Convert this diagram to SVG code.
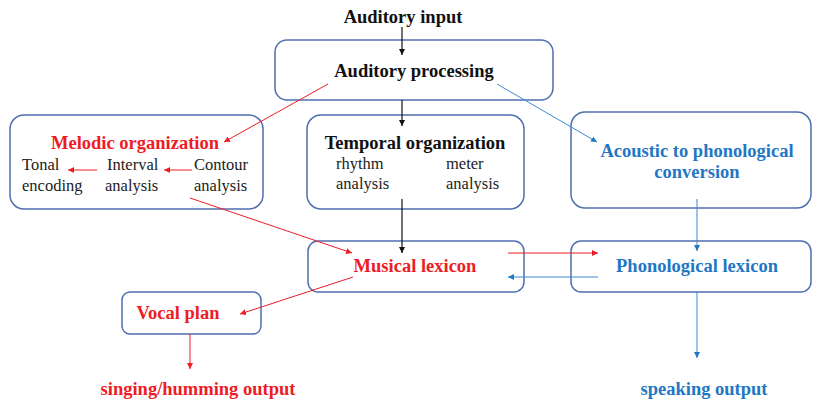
<svg xmlns="http://www.w3.org/2000/svg" width="813" height="403" viewBox="0 0 813 403">
<style>
.box{fill:#fff;stroke:#4f6fad;stroke-width:1.5}
.t{font-family:"Liberation Serif",serif;font-weight:bold;font-size:18.5px;text-anchor:middle}
.s{font-family:"Liberation Serif",serif;font-size:16.5px;fill:#222}
.k{fill:#111}.r{fill:#ee1c24}.b{fill:#1f77c4}
.lk{stroke:#111;stroke-width:1.2;fill:none}
.lr{stroke:#ee1c24;stroke-width:1;fill:none}
.lb{stroke:#3a8ad8;stroke-width:1;fill:none}
</style>
<defs>
<marker id="ak" markerWidth="8" markerHeight="8" refX="6" refY="3" orient="auto" markerUnits="userSpaceOnUse"><path d="M0,0 L6,3 L0,6 z" fill="#111"/></marker>
<marker id="ar" markerWidth="8" markerHeight="8" refX="6" refY="3" orient="auto" markerUnits="userSpaceOnUse"><path d="M0,0 L6,3 L0,6 z" fill="#ee1c24"/></marker>
<marker id="ab" markerWidth="8" markerHeight="8" refX="6" refY="3" orient="auto" markerUnits="userSpaceOnUse"><path d="M0,0 L6,3 L0,6 z" fill="#1f77c4"/></marker>
</defs>
<rect width="813" height="403" fill="#fff"/>
<g id="input"><text class="t k" x="403" y="23">Auditory input</text></g>
<g id="processing"><rect class="box" x="275" y="40" width="278" height="60" rx="12"/><text class="t k" x="414" y="77">Auditory processing</text></g>
<g id="melodic"><rect class="box" x="10" y="115" width="253" height="94" rx="14"/>
<text class="t r" x="135" y="149">Melodic organization</text>
<text class="s" x="22" y="170">Tonal</text><text class="s" x="22" y="191">encoding</text>
<text class="s" x="107" y="170">Interval</text><text class="s" x="105" y="191">analysis</text>
<text class="s" x="194" y="170">Contour</text><text class="s" x="194" y="191">analysis</text></g>
<g id="temporal"><rect class="box" x="307" y="115" width="217" height="94" rx="14"/>
<text class="t k" x="415" y="149">Temporal organization</text>
<text class="s" x="336" y="169">rhythm</text><text class="s" x="336" y="189">analysis</text>
<text class="s" x="446" y="169">meter</text><text class="s" x="446" y="189">analysis</text></g>
<g id="acoustic"><rect class="box" x="571" y="112" width="240" height="96" rx="14"/>
<text class="t b" x="697" y="157">Acoustic to phonological</text>
<text class="t b" x="697" y="178">conversion</text></g>
<g id="musical"><rect class="box" x="308" y="241" width="216" height="51" rx="10"/><text class="t r" x="415" y="272">Musical lexicon</text></g>
<g id="phonological"><rect class="box" x="571" y="241" width="240" height="51" rx="10"/><text class="t b" x="697" y="272">Phonological lexicon</text></g>
<g id="vocal"><rect class="box" x="122" y="292" width="139" height="42" rx="8"/><text class="t r" x="178" y="319">Vocal plan</text></g>
<g id="singing"><text class="t r" x="198" y="395">singing/humming output</text></g>
<g id="speaking"><text class="t b" x="704" y="395">speaking output</text></g>
<g id="connectors">
<line class="lk" x1="402" y1="27" x2="402" y2="55" marker-end="url(#ak)"/>
<line class="lk" x1="402" y1="100" x2="402" y2="126" marker-end="url(#ak)"/>
<line class="lk" x1="402" y1="199" x2="402" y2="253" marker-end="url(#ak)"/>
<line class="lr" x1="328" y1="84" x2="224" y2="142" marker-end="url(#ar)"/>
<line class="lr" x1="97" y1="170" x2="68" y2="170" marker-end="url(#ar)"/>
<line class="lr" x1="192" y1="170" x2="164" y2="170" marker-end="url(#ar)"/>
<line class="lr" x1="190" y1="198" x2="352" y2="253" marker-end="url(#ar)"/>
<line class="lr" x1="508" y1="253" x2="598" y2="253" marker-end="url(#ar)"/>
<line class="lb" x1="598" y1="277" x2="508" y2="277" marker-end="url(#ab)"/>
<line class="lr" x1="353" y1="277" x2="240" y2="314" marker-end="url(#ar)"/>
<line class="lr" x1="190" y1="334" x2="190" y2="369" marker-end="url(#ar)"/>
<line class="lb" x1="497" y1="84" x2="597" y2="142" marker-end="url(#ab)"/>
<line class="lb" x1="697" y1="199" x2="697" y2="251" marker-end="url(#ab)"/>
<line class="lb" x1="697" y1="292" x2="697" y2="358" marker-end="url(#ab)"/>
</g>
</svg>
